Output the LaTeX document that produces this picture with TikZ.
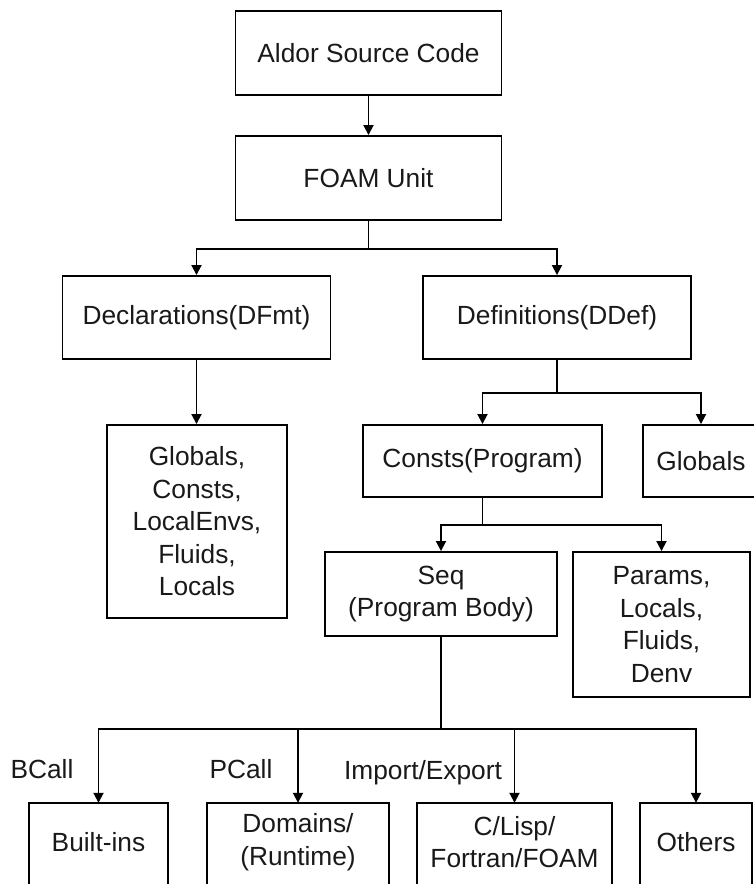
\documentclass[tikz,border=0pt]{standalone}
\usepackage{fontspec}
\setmainfont{Liberation Sans}
\usetikzlibrary{arrows.meta}
\begin{document}
\begin{tikzpicture}[x=1pt,y=-1pt,
  every node/.style={font=\fontsize{26.3pt}{32.5pt}\selectfont, inner sep=0pt, align=center, text=black!90},
  box/.style={draw, line width=1.9pt},
  openbox/.style={draw=none},
  conn/.style={line width=1.9pt},
  arr/.style={line width=1.8pt, -{Triangle[length=10pt,width=10pt]}},
  lbl/.style={anchor=base}
]
\useasboundingbox (0,0) rectangle (754,884);
\clip (0,0) rectangle (754,884);

% boxes
\node[box, minimum width=266pt, minimum height=84pt] (aldor) at (368.5,53) {Aldor Source Code};
\node[box, minimum width=266pt, minimum height=84pt] (foam) at (368.5,178) {FOAM Unit};
\node[box, minimum width=268pt, minimum height=83pt] (decl) at (196.5,317.5) {Declarations(DFmt)};
\node[box, minimum width=268pt, minimum height=83pt] (def) at (557,317.5) {Definitions(DDef)};
\node[box, minimum width=180pt, minimum height=193pt] (glist) at (197,521.5) {Globals,\\Consts,\\LocalEnvs,\\Fluids,\\Locals};
\node[box, minimum width=239pt, minimum height=72pt] (consts) at (482.5,461) {Consts(Program)};
\node[box, minimum width=116pt, minimum height=72pt] (glob) at (701,461) {Globals};
\node[box, minimum width=232pt, minimum height=84pt] (seq) at (441,594) {Seq\\(Program Body)};
\node[box, minimum width=177pt, minimum height=145pt] (params) at (661.5,624.5) {Params,\\Locals,\\Fluids,\\Denv};

\node[openbox, minimum width=139pt, minimum height=78pt] (b1) at (98.5,842) {Built-ins};
\node[openbox, minimum width=182pt, minimum height=78pt] (b2) at (298,842) {Domains/\\(Runtime)};
\node[openbox, minimum width=195pt, minimum height=78pt] (b3) at (514.5,842) {C/Lisp/\\Fortran/FOAM};
\node[openbox, minimum width=112pt, minimum height=78pt] (b4) at (696,842) {Others};
\foreach \b in {b1,b2,b3,b4}{
  \draw[conn] ([yshift=-14pt]\b.south west) -- (\b.north west) -- (\b.north east) -- ([yshift=-14pt]\b.south east);
}

% labels
\node[lbl] (bcall) at (42,778) {BCall};
\node[lbl] (pcall) at (241,778) {PCall};
\node[lbl] (impexp) at (423,779) {Import/Export};

% connectors
\draw[arr] (aldor) -- (foam);
\draw[arr] (foam.south) -- ++(0,28) -| (decl.north);
\draw[arr] (foam.south) -- ++(0,28) -| (def.north);
\draw[arr] (decl.south) -- (decl.south |- glist.north);
\draw[arr] (def.south) -- ++(0,33) -| (consts.north);
\draw[arr] (def.south) -- ++(0,33) -| (glob.north);
\draw[arr] (consts.south) -- ++(0,27) -| (seq.north);
\draw[arr] (consts.south) -- ++(0,27) -| (params.north);
\draw[arr] (seq.south) -- ++(0,92) -| (b1.north);
\draw[arr] (seq.south) -- ++(0,92) -| (b2.north);
\draw[arr] (seq.south) -- ++(0,92) -| (b3.north);
\draw[arr] (seq.south) -- ++(0,92) -| (b4.north);
\end{tikzpicture}
\end{document}
